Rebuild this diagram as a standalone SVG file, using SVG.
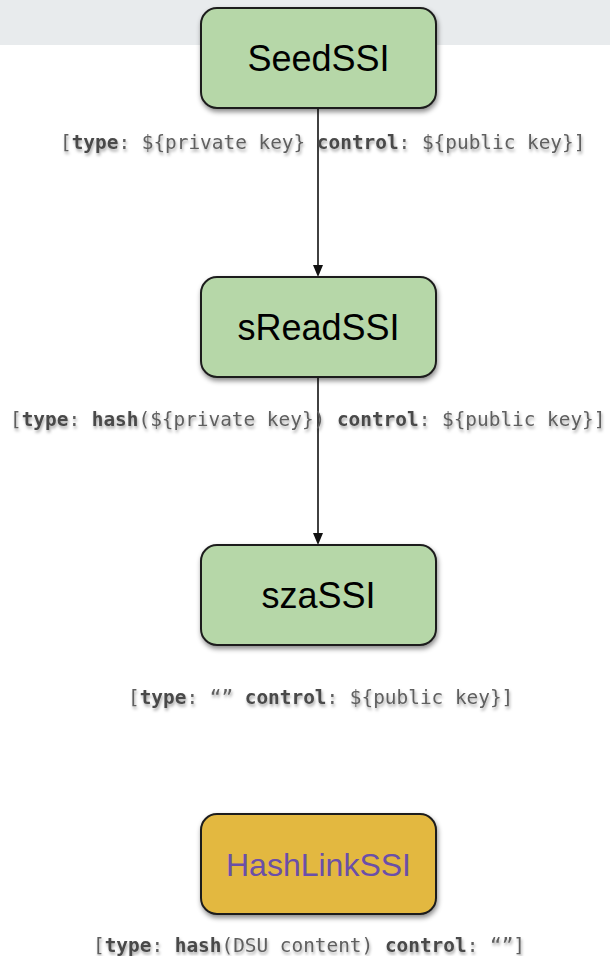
<svg xmlns="http://www.w3.org/2000/svg" width="610" height="956" viewBox="0 0 610 956">
  <defs>
    <filter id="boxShadow" x="-10%" y="-10%" width="125%" height="135%">
      <feDropShadow dx="1" dy="3" stdDeviation="2.5" flood-color="#000" flood-opacity="0.45"/>
    </filter>
    <filter id="textShadow" x="-5%" y="-30%" width="110%" height="180%">
      <feDropShadow dx="1" dy="2.5" stdDeviation="1.8" flood-color="#000" flood-opacity="0.35"/>
    </filter>
    <marker id="arrow" markerWidth="10" markerHeight="12" refX="5" refY="11" orient="auto-start-reverse" markerUnits="userSpaceOnUse" viewBox="0 0 10 12">
      <path d="M0,0 L10,0 L5,12 Z" fill="#000" transform="rotate(-90 5 6)"/>
    </marker>
  </defs>
  <style>
    .box { stroke: #1f1f1f; stroke-width: 2; filter: url(#boxShadow); }
    .green { fill: #b6d7a8; }
    .yellow { fill: #e3b840; }
    .name { font-family: "Liberation Sans", Arial, sans-serif; font-size: 36px; text-anchor: middle; fill: #000; }
    .label { font-family: "DejaVu Sans Mono", "Liberation Mono", monospace; font-size: 19.4px; fill: #5f5f5f; filter: url(#textShadow); white-space: pre; }
    .label .b { font-weight: bold; fill: #4a4a4a; }
    .edge { stroke: #111; stroke-width: 1.6; fill: none; }
  </style>

  <!-- header band -->
  <rect x="0" y="0" width="610" height="45" fill="#e8ebed"/>

  <!-- connectors -->
  <g id="connectors">
    <line class="edge" x1="318" y1="108" x2="318" y2="266"/>
    <path d="M313,265 L323,265 L318,277 Z" fill="#111"/>
    <line class="edge" x1="318" y1="377" x2="318" y2="534"/>
    <path d="M313,533 L323,533 L318,545 Z" fill="#111"/>
  </g>

  <g id="seedSSI">
    <rect class="box green" x="201" y="8" width="235" height="100" rx="16"/>
    <text class="name" x="318.5" y="71">SeedSSI</text>
  </g>
  <g id="seedSSI-label">
    <text class="label" x="60" y="149"><tspan>[</tspan><tspan class="b">type</tspan><tspan>: ${private key} </tspan><tspan class="b">control</tspan><tspan>: ${public key}]</tspan></text>
  </g>

  <g id="sReadSSI">
    <rect class="box green" x="201" y="277" width="235" height="100" rx="16"/>
    <text class="name" x="318.5" y="340">sReadSSI</text>
  </g>
  <g id="sReadSSI-label">
    <text class="label" x="10" y="426"><tspan>[</tspan><tspan class="b">type</tspan><tspan>: </tspan><tspan class="b">hash</tspan><tspan>(${private key}) </tspan><tspan class="b">control</tspan><tspan>: ${public key}]</tspan></text>
  </g>

  <g id="szaSSI">
    <rect class="box green" x="201" y="545" width="235" height="100" rx="16"/>
    <text class="name" x="318.5" y="608">szaSSI</text>
  </g>
  <g id="szaSSI-label">
    <text class="label" x="128" y="704"><tspan>[</tspan><tspan class="b">type</tspan><tspan>: “” </tspan><tspan class="b">control</tspan><tspan>: ${public key}]</tspan></text>
  </g>

  <g id="hashLinkSSI">
    <rect class="box yellow" x="201" y="814" width="235" height="100" rx="16"/>
    <text class="name" x="318.5" y="876" style="font-size:32px; fill:#6b4fa8">HashLinkSSI</text>
  </g>
  <g id="hashLinkSSI-label">
    <text class="label" x="93" y="952"><tspan>[</tspan><tspan class="b">type</tspan><tspan>: </tspan><tspan class="b">hash</tspan><tspan>(DSU content) </tspan><tspan class="b">control</tspan><tspan>: “”]</tspan></text>
  </g>
</svg>
